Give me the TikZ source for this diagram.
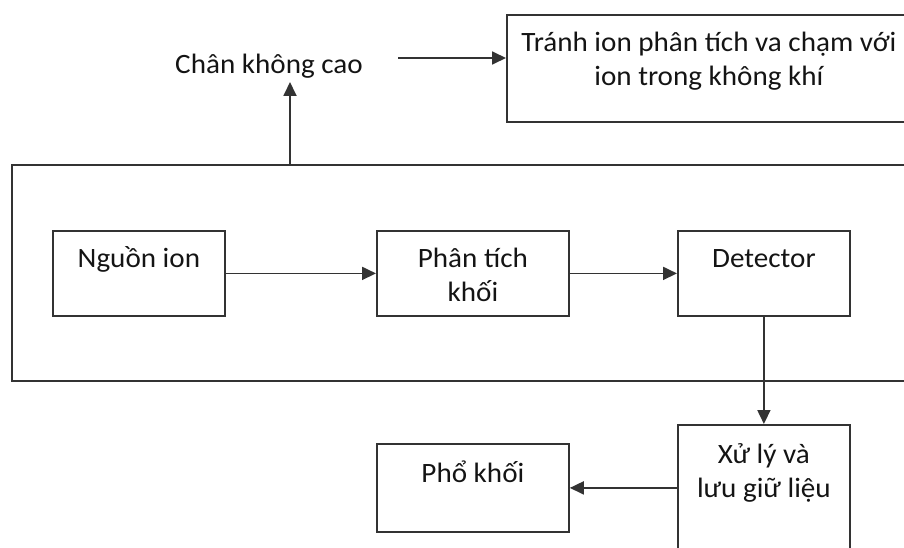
\documentclass[tikz,border=0pt]{standalone}
\usepackage{fontspec}
\setmainfont{Carlito}[FakeStretch=1.04]
\usetikzlibrary{arrows.meta}

\begin{document}
\begin{tikzpicture}[x=1pt,y=-1pt,
		box/.style={draw=black!80, line width=1.8pt, rectangle, anchor=north west,
			inner xsep=0pt, inner ysep=0pt, align=center, text=black!92,
			font=\fontsize{28}{34.5}\selectfont},
		arr/.style={draw=black!80, line width=1.8pt, -{Triangle[length=14pt,width=13pt]}}]
				\useasboundingbox (0,0) rectangle (904,548);
				\clip (0,0) rectangle (904,548);
				
				% vacuum chamber and the three stages inside it
				\node[box, minimum width=899pt, minimum height=216pt] (chamber) at (11,164) {};
				\node[box, minimum width=172pt, text height=37pt, text depth=48pt] (src) at (52,230) {Nguồn ion};
				\node[box, minimum width=192pt, text height=71pt, text depth=14pt] (mass) at (376,230) {Phân tích\\khối};
				\node[box, minimum width=172pt, text height=37pt, text depth=48pt] (det) at (677,230) {Detector};
				
				% outside
				\node[box, draw=none, anchor=base] (vac) at (269,74) {Chân không cao};
				\node[box, minimum width=404pt, text height=71pt, text depth=36pt] (avoid) at (506,14) {Tránh ion phân tích va chạm với\\ion trong không khí};
				\node[box, minimum width=172pt, text height=73pt, text depth=63pt] (proc) at (677,424) {Xử lý và\\lưu giữ liệu};
				\node[box, minimum width=192pt, text height=39pt, text depth=49pt] (spec) at (376,443) {Phổ khối};
				
				\coordinate (vacfoot) at (290,164);
				\coordinate (vactip) at (290,82);
				\coordinate (vacend) at (398,58);
				
				\draw[arr] (vacfoot) -- (vactip);
				\draw[arr] (vacend) -- (vacend -| avoid.west);
				\draw[arr] (src.east) -- (mass.west);
				\draw[arr] (mass.east) -- (det.west);
				\draw[arr] (det.south) -- (det.south |- proc.north);
				\draw[arr] (proc.west |- spec.east) -- (spec.east);
			\end{tikzpicture}
\end{document}
